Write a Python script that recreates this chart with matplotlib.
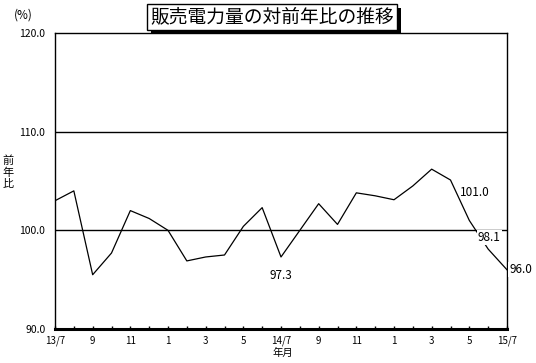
import matplotlib
matplotlib.use('Agg')
import matplotlib.pyplot as plt
import matplotlib.patheffects as pe

plt.rcParams['font.family'] = ['Noto Sans CJK JP', 'DejaVu Sans']

# monthly ratio vs previous year (%), 2013/7 .. 2015/7
values = [103.0, 104.0, 95.5, 97.7, 102.0, 101.2, 100.0, 96.9, 97.3, 97.5,
          100.4, 102.3, 97.3, 100.0, 102.7, 100.6, 103.8, 103.5, 103.1, 104.5,
          106.2, 105.1, 101.0, 98.1, 96.0]
tick_labels = ['13/7', '9', '11', '1', '3', '5', '14/7', '9', '11', '1', '3', '5', '15/7']
y_ticks = [90, 100, 110, 120]
labelled = [12, 22, 23, 24]   # points that carry a value label

x = list(range(len(values)))

fig = plt.figure(figsize=(5.36, 3.63), dpi=100)
ax = fig.add_axes([55/536, 1-329/363, 452/536, 296/363])

ax.plot(x, values, color='black', lw=0.9, zorder=3)
for v in (100, 110):
    ax.axhline(v, color='black', lw=1.0, zorder=2)

ax.set_xlim(0, len(values)-1)
ax.set_ylim(90, 120)
ax.set_xticks(x[::2])
ax.set_xticklabels(tick_labels)
ax.set_xticks(x, minor=True)
ax.set_yticks(y_ticks)
ax.set_yticklabels(['{:.1f}'.format(v) for v in y_ticks])
ax.tick_params(axis='x', which='both', direction='in', length=2, width=1,
               labelsize=7, pad=5)
ax.tick_params(axis='y', length=0, labelsize=7.5, pad=7)
for s in ('left', 'right', 'top'):
    ax.spines[s].set_linewidth(1.0)
ax.spines['bottom'].set_linewidth(2.2)

# value labels: offsets in points, and whether they mask the line
offsets = {12: (0, -13, 'center', False), 22: (-7, 20, 'left', False),
           23: (-7.5, 8.5, 'left', True), 24: (1.5, 0, 'left', True)}
for i in labelled:
    dx, dy, ha, mask = offsets[i]
    box = dict(boxstyle='square,pad=0.1', fc='white', ec='none') if mask else None
    ax.annotate('{:.1f}'.format(values[i]), (x[i], values[i]), xytext=(dx, dy),
                textcoords='offset points', ha=ha, va='center', fontsize=8.5,
                annotation_clip=False, zorder=5, bbox=box)

fig.text(23/536, 1-15/363, '(%)', ha='center', va='center', fontsize=8.5)
fig.text(8/536, 1-172/363, '前\n年\n比', ha='center', va='center', fontsize=8,
         linespacing=1.15)
fig.text(283/536, 1-353/363, '年月', ha='center', va='center', fontsize=7.5)

fig.text(272/536, 1-17/363, '販売電力量の対前年比の推移', ha='center', va='center',
         fontsize=13.5, zorder=10,
         bbox=dict(boxstyle='square,pad=0.15', fc='white', ec='black', lw=1,
                   path_effects=[pe.withSimplePatchShadow(offset=(3, -3),
                                 shadow_rgbFace='black', alpha=1)]))

fig.savefig('out.png', dpi=100)
